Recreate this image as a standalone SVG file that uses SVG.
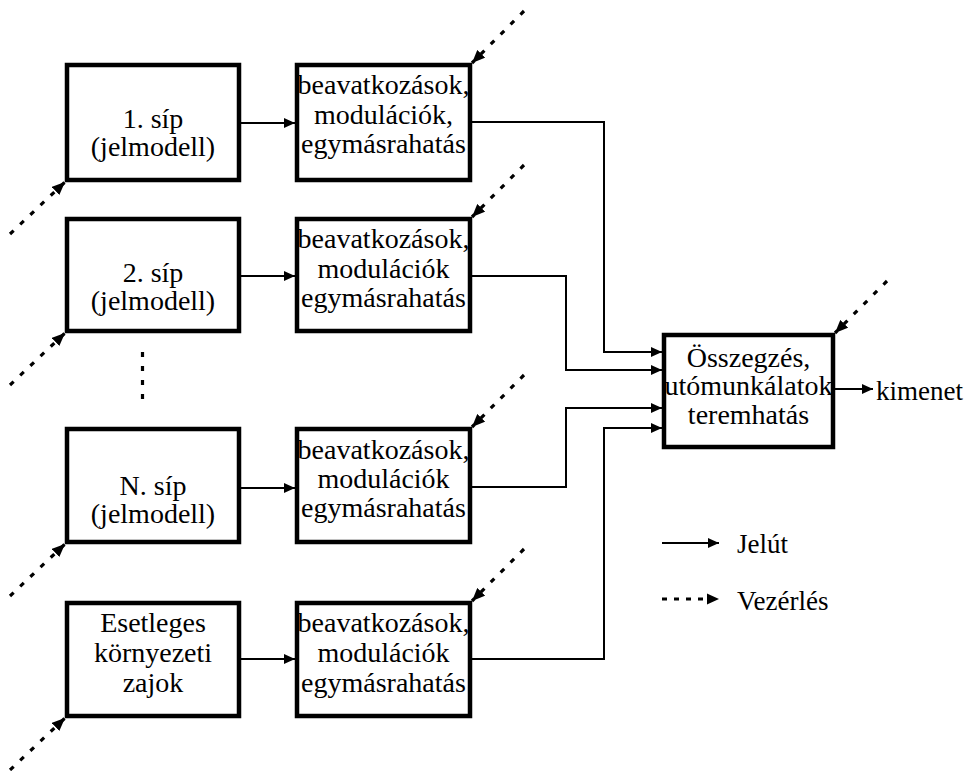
<svg xmlns="http://www.w3.org/2000/svg" width="968" height="771" viewBox="0 0 968 771">
<style>
.box{fill:#fff;stroke:#000;stroke-width:4.5}
text{font-family:'Liberation Serif','Times New Roman',Times,serif;fill:#000}
.t{font-size:28px;text-anchor:middle}
.lg{font-size:27px}
.sig{fill:none;stroke:#000;stroke-width:2;marker-end:url(#ah)}
.ctl{fill:none;stroke:#000;stroke-width:3.2;stroke-dasharray:5 9;marker-end:url(#ahd)}
</style>
<defs>
<marker id="ah" markerUnits="userSpaceOnUse" markerWidth="11" markerHeight="10" refX="11" refY="5" orient="auto"><path d="M0,0 L11,5 L0,10 z" fill="#000"/></marker>
<marker id="ahd" markerUnits="userSpaceOnUse" markerWidth="13" markerHeight="11" refX="13" refY="5.5" orient="auto"><path d="M0,0 L13,5.5 L0,11 z" fill="#000"/></marker>
</defs>
<rect width="968" height="771" fill="#fff"/>
<g id="connectors">
<line class="sig" x1="241" y1="123" x2="295" y2="123"/>
<line class="sig" x1="241" y1="276" x2="295" y2="276"/>
<line class="sig" x1="241" y1="488" x2="295" y2="488"/>
<line class="sig" x1="241" y1="659" x2="295" y2="659"/>
<path class="sig" d="M472,122 H604 V352 H662"/>
<path class="sig" d="M472,276 H566 V370 H662"/>
<path class="sig" d="M472,487 H566 V408 H662"/>
<path class="sig" d="M472,659 H604 V428 H662"/>
<line class="sig" x1="835" y1="389" x2="873" y2="389"/>
<line class="ctl" x1="10" y1="234" x2="65" y2="182"/>
<line class="ctl" x1="10" y1="385" x2="65" y2="333"/>
<line class="ctl" x1="10" y1="596" x2="65" y2="544"/>
<line class="ctl" x1="10" y1="770" x2="65" y2="718"/>
<line class="ctl" x1="524" y1="11" x2="472" y2="63"/>
<line class="ctl" x1="524" y1="165" x2="472" y2="217"/>
<line class="ctl" x1="524" y1="375" x2="472" y2="427"/>
<line class="ctl" x1="524" y1="549" x2="472" y2="601"/>
<line class="ctl" x1="887" y1="281" x2="835" y2="333"/>
<line x1="142.5" y1="352" x2="142.5" y2="405" stroke="#000" stroke-width="3.2" stroke-dasharray="5 9"/>
</g>
<g id="sip1"><rect class="box" x="67" y="65" width="172" height="115"/><text class="t" x="153" y="128">1. síp</text><text class="t" x="153" y="156">(jelmodell)</text></g>
<g id="mod1"><rect class="box" x="297" y="65" width="173" height="115"/><text class="t" x="383.5" y="94">beavatkozások,</text><text class="t" x="383.5" y="123.5">modulációk,</text><text class="t" x="383.5" y="153">egymásrahatás</text></g>
<g id="sip2"><rect class="box" x="67" y="219" width="172" height="112"/><text class="t" x="153" y="282">2. síp</text><text class="t" x="153" y="310">(jelmodell)</text></g>
<g id="mod2"><rect class="box" x="297" y="219" width="173" height="112"/><text class="t" x="383.5" y="248">beavatkozások,</text><text class="t" x="383.5" y="277.5">modulációk</text><text class="t" x="383.5" y="307">egymásrahatás</text></g>
<g id="sipN"><rect class="box" x="67" y="429" width="172" height="113"/><text class="t" x="153" y="495">N. síp</text><text class="t" x="153" y="523">(jelmodell)</text></g>
<g id="modN"><rect class="box" x="297" y="429" width="173" height="113"/><text class="t" x="383.5" y="459">beavatkozások,</text><text class="t" x="383.5" y="488">modulációk</text><text class="t" x="383.5" y="517">egymásrahatás</text></g>
<g id="zaj"><rect class="box" x="67" y="603" width="172" height="113"/><text class="t" x="153" y="632">Esetleges</text><text class="t" x="153" y="662">környezeti</text><text class="t" x="153" y="692">zajok</text></g>
<g id="modZ"><rect class="box" x="297" y="603" width="173" height="113"/><text class="t" x="383.5" y="632">beavatkozások,</text><text class="t" x="383.5" y="662">modulációk</text><text class="t" x="383.5" y="692">egymásrahatás</text></g>
<g id="sum"><rect class="box" x="664" y="335" width="169" height="112"/><text class="t" x="748.5" y="367">Összegzés,</text><text class="t" x="748.5" y="395">utómunkálatok</text><text class="t" x="748.5" y="424">teremhatás</text></g>
<g id="out"><text class="lg" x="876" y="400">kimenet</text></g>
<g id="legend">
<line class="sig" x1="662" y1="543" x2="719" y2="543"/>
<text class="lg" x="737" y="553">Jelút</text>
<line x1="662" y1="599" x2="707" y2="599" stroke="#000" stroke-width="3" stroke-dasharray="5 7"/>
<path d="M707,593.5 L719,599 L707,604.5 z" fill="#000"/>
<text class="lg" x="737" y="610">Vezérlés</text>
</g>
</svg>
